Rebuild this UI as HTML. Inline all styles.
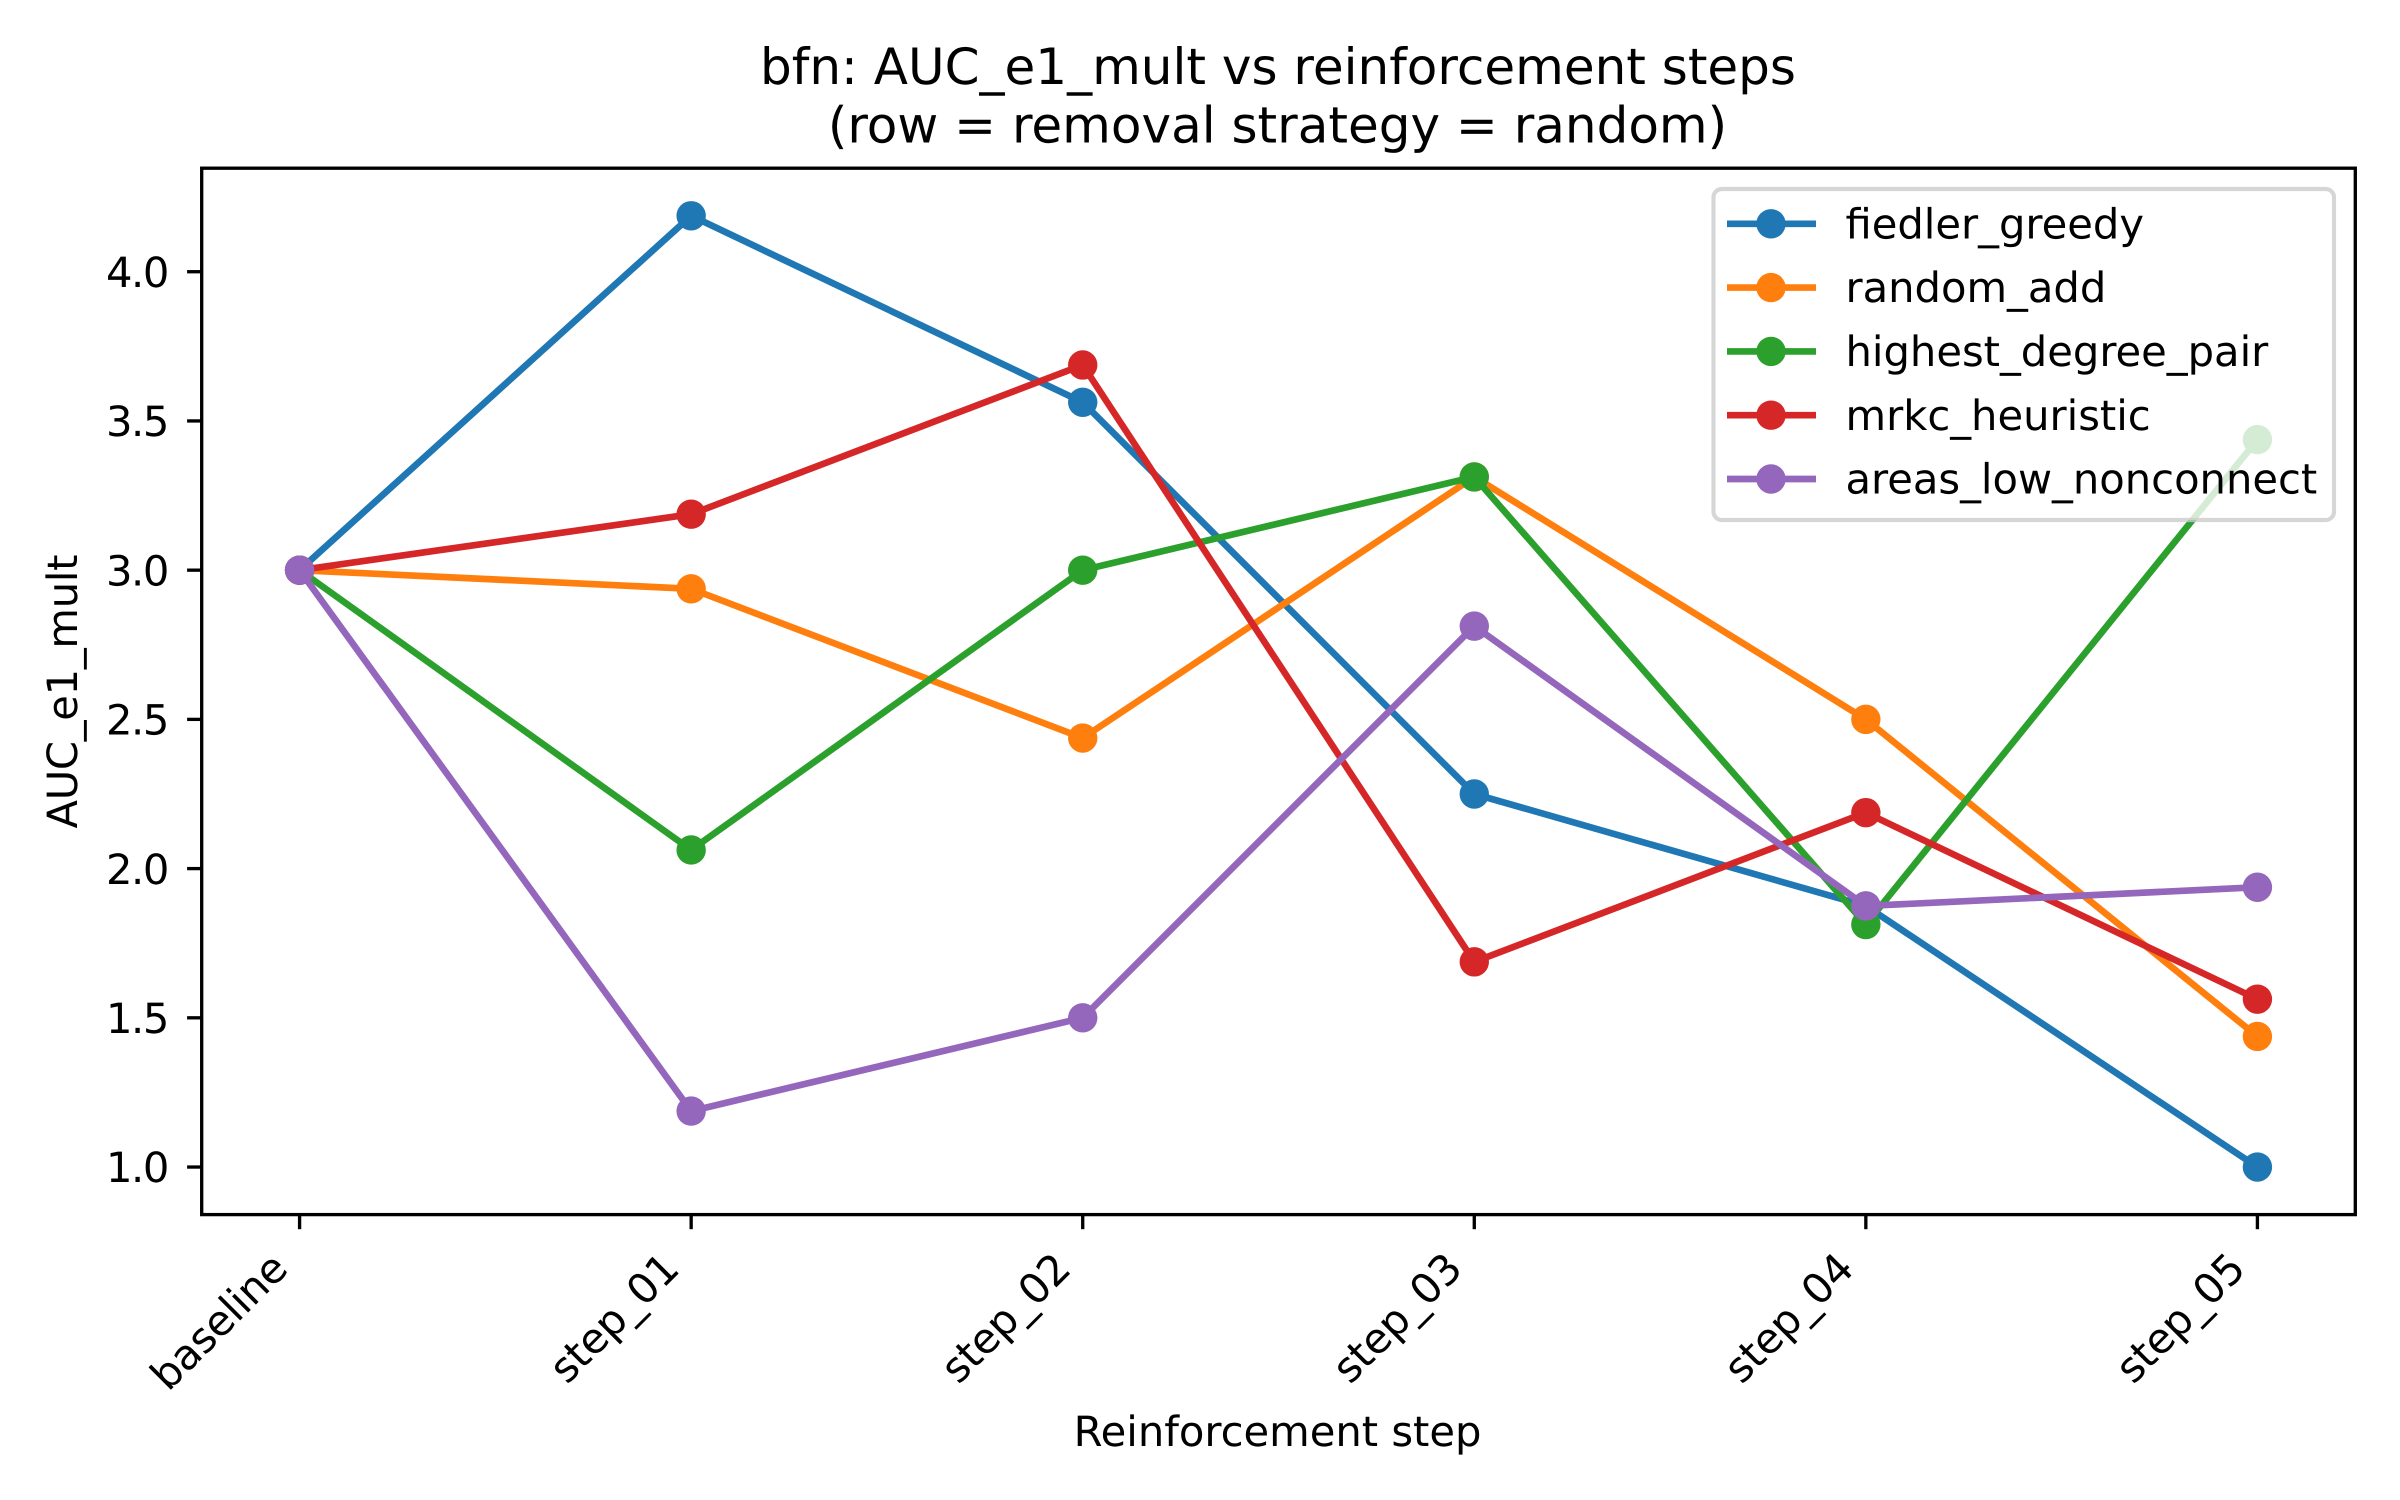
<!DOCTYPE html>
<html lang="en">
<head>
<meta charset="utf-8">
<title>bfn: AUC_e1_mult vs reinforcement steps</title>
<style>
html,body{margin:0;padding:0;background:#fff;width:2400px;height:1500px;overflow:hidden}
svg{display:block}
text{font-family:"DejaVu Sans",sans-serif;fill:#000;text-rendering:geometricPrecision}
</style>
</head>
<body>
<svg id="chart" xmlns="http://www.w3.org/2000/svg" width="2400" height="1500" viewBox="0 0 2400 1500">
  <rect x="0" y="0" width="2400" height="1500" fill="#fff"/>
  <text x="1278" y="84" font-size="50" text-anchor="middle">bfn: AUC_e1_mult vs reinforcement steps</text>
  <text x="1277.5" y="142.5" font-size="50" text-anchor="middle">(row = removal strategy = random)</text>
  <text x="1277.5" y="1446" font-size="41.67" text-anchor="middle">Reinforcement step</text>
  <text x="0" y="0" font-size="41.67" text-anchor="middle" transform="translate(77 691.5) rotate(-90)" textLength="274" lengthAdjust="spacing">AUC_e1_mult</text>
  <g id="ticks"></g>
  <g id="series"></g>
  <rect x="201.7" y="168.2" width="2153.6" height="1046.4" fill="none" stroke="#000" stroke-width="3.33"/>
  <g id="legend"></g>
</svg>
<script>
const categories = ["baseline", "step_01", "step_02", "step_03", "step_04", "step_05"];
const yTickValues = [1.0, 1.5, 2.0, 2.5, 3.0, 3.5, 4.0];
const yTickLabels = ["1.0", "1.5", "2.0", "2.5", "3.0", "3.5", "4.0"];
const seriesNames = ["fiedler_greedy", "random_add", "highest_degree_pair", "mrkc_heuristic", "areas_low_nonconnect"];
const seriesColors = ["#1f77b4", "#ff7f0e", "#2ca02c", "#d62728", "#9467bd"];
const fiedlerGreedy = [3.0, 4.1875, 3.5625, 2.25, 1.875, 1.0];
const randomAdd = [3.0, 2.9375, 2.4375, 3.3125, 2.5, 1.4375];
const highestDegreePair = [3.0, 2.0625, 3.0, 3.3125, 1.8125, 3.4375];
const mrkcHeuristic = [3.0, 3.1875, 3.6875, 1.6875, 2.1875, 1.5625];
const areasLowNonconnect = [3.0, 1.1875, 1.5, 2.8125, 1.875, 1.9375];
const seriesValues = [fiedlerGreedy, randomAdd, highestDegreePair, mrkcHeuristic, areasLowNonconnect];

const NS = "http://www.w3.org/2000/svg";
const plot = {left: 201.7, right: 2355.3, top: 168.2, bottom: 1214.6};
const allValues = seriesValues.flat();
const yMin = Math.min(...allValues);
const yMax = Math.max(...allValues);
const yPad = (yMax - yMin) * 0.05;
const xPad = (categories.length - 1) * 0.05;

function xScale(i) {
  return plot.left + (i + xPad) / (categories.length - 1 + 2 * xPad) * (plot.right - plot.left);
}
function yScale(v) {
  return plot.bottom - (v - yMin + yPad) / (yMax - yMin + 2 * yPad) * (plot.bottom - plot.top);
}
function make(tag, attrs, parent) {
  const el = document.createElementNS(NS, tag);
  for (const k in attrs) el.setAttribute(k, attrs[k]);
  parent.appendChild(el);
  return el;
}

const ticksGroup = document.getElementById("ticks");
categories.forEach(function (label, i) {
  const x = xScale(i);
  const tick = make("line", {x1: x, x2: x, y1: plot.bottom, y2: plot.bottom + 14.6, stroke: "#000", "stroke-width": 3.33}, ticksGroup);
  
  
  const text = make("text", {"font-size": 41.67, "text-anchor": "end", "letter-spacing": -0.35, transform: "translate(" + (x - 10) + " 1271) rotate(-45)"}, ticksGroup);
  text.textContent = label;
  
  
});
yTickValues.forEach(function (v, i) {
  const y = yScale(v);
  const tick = make("line", {x1: plot.left - 14.6, x2: plot.left, y1: y, y2: y, stroke: "#000", "stroke-width": 3.33}, ticksGroup);
  
  
  const text = make("text", {x: 168, y: y + 15.2, "font-size": 41.67, "text-anchor": "end", "letter-spacing": -1.4}, ticksGroup);
  text.textContent = yTickLabels[i];
  
  
});

const seriesGroup = document.getElementById("series");
seriesNames.forEach(function (name, s) {
  const group = make("g", {}, seriesGroup);
  
  
  const pts = seriesValues[s].map(function (v, i) { return xScale(i) + "," + yScale(v); }).join(" ");
  const line = make("polyline", {points: pts, fill: "none", stroke: seriesColors[s], "stroke-width": 6.67, "stroke-linejoin": "round", "stroke-linecap": "square"}, group);
  
  
  seriesValues[s].forEach(function (v, i) {
    const dot = make("circle", {cx: xScale(i), cy: yScale(v), r: 14.7, fill: seriesColors[s]}, group);
    
    
  });
});

const legendGroup = document.getElementById("legend");
const legendBox = make("rect", {x: 1713.5, y: 189, width: 620.5, height: 331, rx: 8.3, ry: 8.3, fill: "#fff", "fill-opacity": 0.8, stroke: "#ccc", "stroke-opacity": 0.8, "stroke-width": 4.17}, legendGroup);


seriesNames.forEach(function (name, s) {
  const rowY = 223.8 + s * 63.8;
  const entry = make("g", {}, legendGroup);
  
  
  const handle = make("line", {x1: 1727, x2: 1816, y1: rowY, y2: rowY, stroke: seriesColors[s], "stroke-width": 6.67}, entry);
  
  
  const marker = make("circle", {cx: 1771, cy: rowY, r: 14.7, fill: seriesColors[s]}, entry);
  
  
  const text = make("text", {x: 1845.5, y: rowY + 14.6, "font-size": 41.67}, entry);
  text.textContent = name;
  
  
});
</script>
</body>
</html>
